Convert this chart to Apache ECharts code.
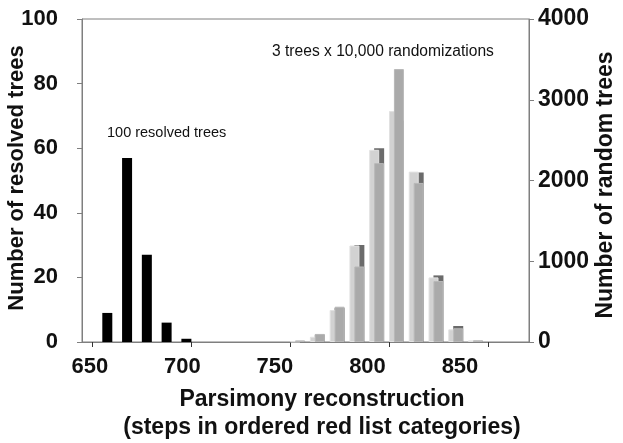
<!DOCTYPE html>
<html>
<head>
<meta charset="utf-8">
<script src="https://cdn.jsdelivr.net/npm/echarts@6/dist/echarts.min.js"></script>
<style>
html,body{margin:0;padding:0;background:#fff;}
#chart{width:623px;height:443px;}
</style>
</head>
<body>
<div id="chart"></div>
<script>
// Resolved trees histogram (left axis)
var resolvedX = [657.5, 667.5, 677.5, 687.5, 697.5];
var resolvedCounts = [9, 57, 27, 6, 1];

// Random trees: bin starts and three trees (right axis)
var randomBins = [750, 760, 770, 780, 790, 800, 810, 820, 830, 840];
var tree1Light = [5, 65, 396, 1195, 2380, 2860, 2110, 800, 157, 20];
var tree2Dark = [10, 90, 420, 1200, 2400, 2740, 2100, 825, 198, 15];
var tree3Medium = [20, 100, 437, 935, 2215, 3380, 1970, 755, 170, 20];

var xTicks = [650, 700, 750, 800, 850];
var xTickLabels = ['650', '700', '750', '800', '850'];
var leftTicks = [0, 20, 40, 60, 80, 100];
var rightTicks = [0, 1000, 2000, 3000, 4000];

function pairs(xs, ys) { return xs.map(function (x, i) { return [x, ys[i]]; }); }
function shifted(xs, d) { return xs.map(function (x) { return x + d; }); }

var chart = echarts.init(document.getElementById('chart'), null, {renderer: 'canvas'});
var FONT = 'Liberation Sans, Arial, sans-serif';
var BOLD23 = 'bold 23px Liberation Sans, Arial, sans-serif';
var BOLD22 = 'bold 22px Liberation Sans, Arial, sans-serif';
var axisGray = '#7f7f7f';
var textColor = '#111';

chart.setOption({
  animation: false,
  grid: {left: 82, right: 94, top: 19, bottom: 101, containLabel: false, outerBoundsMode: 'none',
    show: true, borderColor: axisGray, borderWidth: 1},
  xAxis: [{
    type: 'value', min: 644.7, max: 870.8,
    axisLine: {show: true, lineStyle: {color: axisGray, width: 1}},
    axisTick: {show: true, length: 5, inside: false, customValues: xTicks, lineStyle: {color: '#333'}},
    axisLabel: {show: false},
    splitLine: {show: false}
  }, {
    // tick labels as printed in the figure (their spacing differs slightly from the tick marks)
    type: 'value', min: 645.7, max: 887.3, position: 'bottom',
    axisLine: {show: false}, axisTick: {show: false}, splitLine: {show: false},
    axisLabel: {customValues: xTicks, formatter: function (v) { return xTickLabels[xTicks.indexOf(v)] || ''; },
      color: textColor, fontFamily: FONT, fontWeight: 'bold', fontSize: 22, margin: 14}
  }],
  yAxis: [{
    type: 'value', min: 0, max: 100, interval: 20, position: 'left',
    axisLine: {show: true, lineStyle: {color: axisGray}},
    axisTick: {show: true, length: 5, lineStyle: {color: axisGray}},
    axisLabel: {color: textColor, fontFamily: FONT, fontWeight: 'bold', fontSize: 22, margin: 24},
    splitLine: {show: false}
  }, {
    type: 'value', min: 0, max: 4000, interval: 1000, position: 'right',
    axisLine: {show: true, lineStyle: {color: axisGray}},
    axisTick: {show: true, length: 5, lineStyle: {color: axisGray}},
    axisLabel: {color: textColor, fontFamily: FONT, fontWeight: 'bold', fontSize: 23, margin: 9,
      formatter: function (v) { return String(v); }},
    splitLine: {show: false}
  }],
  graphic: [{
    type: 'text', x: 17, y: 178, rotation: Math.PI / 2,
    style: {text: 'Number of resolved trees', fill: textColor, font: BOLD22, textAlign: 'center', textVerticalAlign: 'middle'}
  }, {
    type: 'text', x: 606, y: 185, rotation: Math.PI / 2,
    style: {text: 'Number of random trees', fill: textColor, font: BOLD23, textAlign: 'center', textVerticalAlign: 'middle'}
  }, {
    type: 'text', x: 322, y: 400,
    style: {text: 'Parsimony reconstruction', fill: textColor, font: BOLD23, textAlign: 'center', textVerticalAlign: 'middle'}
  }, {
    type: 'text', x: 322, y: 428,
    style: {text: '(steps in ordered red list categories)', fill: textColor, font: BOLD23, textAlign: 'center', textVerticalAlign: 'middle'}
  }, {
    type: 'text', x: 107, y: 133,
    style: {text: '100 resolved trees', fill: textColor, font: '14.5px Liberation Sans, Arial, sans-serif', textAlign: 'left', textVerticalAlign: 'middle'}
  }, {
    type: 'text', x: 272, y: 52,
    style: {text: '3 trees x 10,000 randomizations', fill: textColor, font: '15.6px Liberation Sans, Arial, sans-serif', textAlign: 'left', textVerticalAlign: 'middle'}
  }],
  series: [{
    type: 'bar', name: 'resolved', yAxisIndex: 0, barWidth: 10, barGap: '-100%',
    itemStyle: {color: '#000'},
    data: pairs(resolvedX, resolvedCounts)
  }, {
    type: 'bar', name: 'tree2', yAxisIndex: 1, barWidth: 10, barGap: '-100%',
    itemStyle: {color: '#6b6b6b'},
    data: pairs(shifted(randomBins, 5), tree2Dark)
  }, {
    type: 'bar', name: 'tree1', yAxisIndex: 1, barWidth: 10, barGap: '-100%',
    itemStyle: {color: '#d2d2d2', borderColor: '#e2e2e2', borderWidth: 1},
    data: pairs(shifted(randomBins, 2.5), tree1Light)
  }, {
    type: 'bar', name: 'tree3', yAxisIndex: 1, barWidth: 10, barGap: '-100%',
    itemStyle: {color: '#aaaaaa', borderColor: '#b8b8b8', borderWidth: 1},
    data: pairs(shifted(randomBins, 5), tree3Medium)
  }]
});
</script>
</body>
</html>
